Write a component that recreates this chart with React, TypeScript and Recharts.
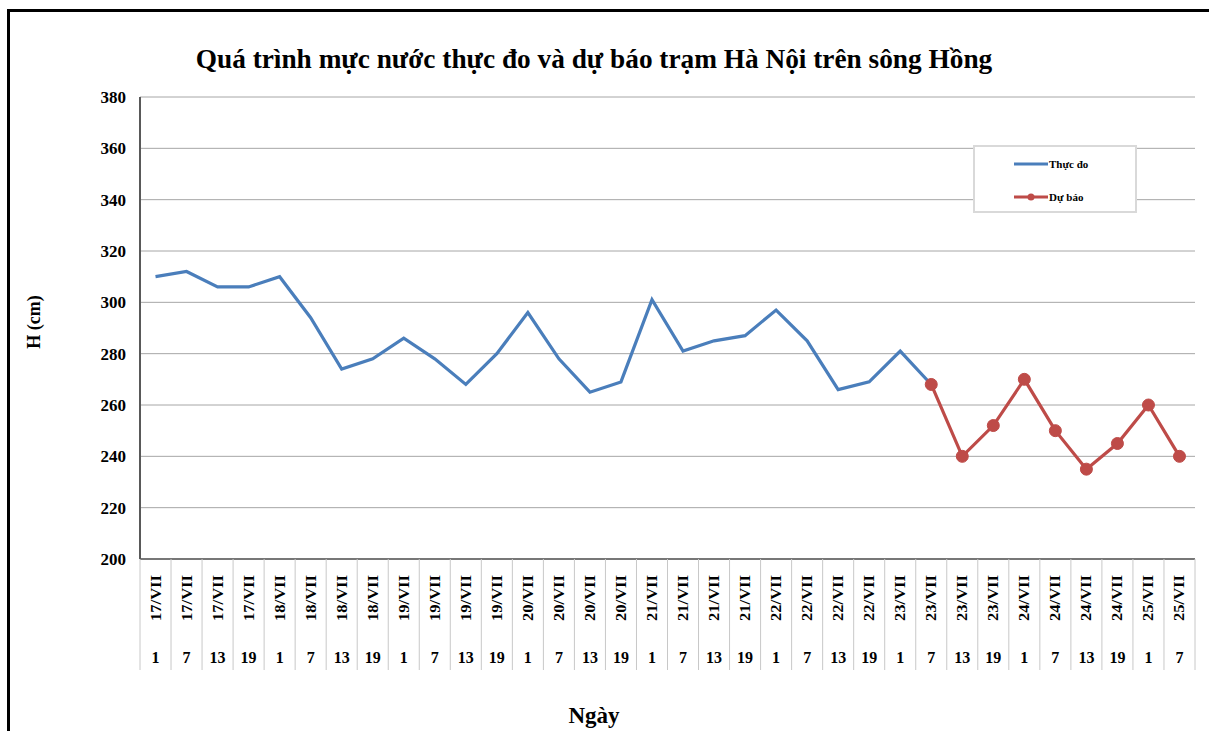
import React from 'react';
import { LineChart, Line, XAxis, YAxis, CartesianGrid, Legend } from 'recharts';

const DAY_LABELS = [
  '17/VII', '17/VII', '17/VII', '17/VII',
  '18/VII', '18/VII', '18/VII', '18/VII',
  '19/VII', '19/VII', '19/VII', '19/VII',
  '20/VII', '20/VII', '20/VII', '20/VII',
  '21/VII', '21/VII', '21/VII', '21/VII',
  '22/VII', '22/VII', '22/VII', '22/VII',
  '23/VII', '23/VII', '23/VII', '23/VII',
  '24/VII', '24/VII', '24/VII', '24/VII',
  '25/VII', '25/VII',
];
const HOUR_LABELS = [
  '1', '7', '13', '19', '1', '7', '13', '19', '1', '7', '13', '19',
  '1', '7', '13', '19', '1', '7', '13', '19', '1', '7', '13', '19',
  '1', '7', '13', '19', '1', '7', '13', '19', '1', '7',
];
// Thực đo (measured)
const OBSERVED = [
  310, 312, 306, 306, 310, 294, 274, 278, 286, 278, 268, 280, 296,
  278, 265, 269, 301, 281, 285, 287, 297, 285, 266, 269, 281, 268,
];
// Dự báo (forecast), starts at 23/VII 7h
const FORECAST = [268, 240, 252, 270, 250, 235, 245, 260, 240];
const FORECAST_START = 25;
const Y_TICKS = [200, 220, 240, 260, 280, 300, 320, 340, 360, 380];

const data = DAY_LABELS.map((day, i) => ({
  cat: `${day} ${HOUR_LABELS[i]}`,
  observed: i < OBSERVED.length ? OBSERVED[i] : null,
  forecast: i >= FORECAST_START ? FORECAST[i - FORECAST_START] : null,
}));

const FONT = '"Liberation Serif", "Times New Roman", serif';
const BLUE = '#4a7ebb';
const RED = '#be4b48';
const PLOT_W = 1055;
const BAND = PLOT_W / DAY_LABELS.length;

function CategoryTick(props: any) {
  const { x, y, index } = props;
  const left = x - BAND / 2;
  const last = index === DAY_LABELS.length - 1;
  return (
    <g>
      <line x1={left} y1={y} x2={left} y2={y + 111} stroke="#c8c8c8" />
      {last && <line x1={x + BAND / 2} y1={y} x2={x + BAND / 2} y2={y + 111} stroke="#c8c8c8" />}
      <text
        transform={`translate(${x + 5},${y + 39}) rotate(-90)`}
        textAnchor="middle"
        fontSize={14}
        fontWeight="bold"
        fontFamily={FONT}
        fill="#000"
        textLength={46}
        lengthAdjust="spacingAndGlyphs"
      >
        {DAY_LABELS[index]}
      </text>
      <text x={x} y={y + 104} textAnchor="middle" fontSize={16} fontWeight="bold" fontFamily={FONT} fill="#000">
        {HOUR_LABELS[index]}
      </text>
    </g>
  );
}

function LegendBox() {
  const row = (label: string, color: string, dot: boolean) => (
    <div style={{ display: 'flex', alignItems: 'center', height: 16 }}>
      <svg width={36} height={12} style={{ marginLeft: 38 }}>
        <line x1={1} y1={6} x2={35} y2={6} stroke={color} strokeWidth={3} />
        {dot && <circle cx={18} cy={6} r={3.5} fill={color} />}
      </svg>
      <span style={{ fontFamily: FONT, fontWeight: 'bold', fontSize: 11, color: '#000' }}>{label}</span>
    </div>
  );
  return (
    <div
      style={{
        width: 160,
        height: 55,
        border: '2px solid #d9d9d9',
        background: '#fff',
        boxSizing: 'content-box',
        paddingTop: 9,
        display: 'flex',
        flexDirection: 'column',
        gap: 17,
      }}
    >
      {row('Thực đo', BLUE, false)}
      {row('Dự báo', RED, true)}
    </div>
  );
}

export default function App() {
  return (
    <div style={{ position: 'absolute', left: 0, top: 0, width: 1209, height: 731, overflow: 'hidden', background: '#fff' }}>
      <div
        style={{
          position: 'absolute',
          left: 7,
          top: 9,
          width: 1300,
          height: 800,
          border: '3px solid #000',
        }}
      />
      <div
        style={{
          position: 'absolute',
          left: 0,
          top: 44,
          width: 1188,
          textAlign: 'center',
          fontFamily: FONT,
          fontWeight: 'bold',
          fontSize: 27.3,
          color: '#000',
          whiteSpace: 'nowrap',
        }}
      >
        Quá trình mực nước thực đo và dự báo trạm Hà Nội trên sông Hồng
      </div>
      <div style={{ position: 'absolute', left: 0, top: 0 }}>
        <LineChart width={1209} height={731} data={data} margin={{ top: 97, right: 14, bottom: 0, left: 0 }}>
          <CartesianGrid yAxisId="l" vertical={false} stroke="#a6a6a6" strokeWidth={1} />
          <XAxis
            dataKey="cat"
            interval={0}
            height={172}
            padding={{ left: BAND / 2, right: BAND / 2 }}
            tickSize={0}
            tickMargin={0}
            tickLine={false}
            axisLine={{ stroke: '#595959', strokeWidth: 1.5 }}
            tick={(p: any) => <CategoryTick {...p} />}
            label={() => (
              <text x={594} y={723} textAnchor="middle" fontSize={23} fontWeight="bold" fontFamily={FONT} fill="#000">
                Ngày
              </text>
            )}
          />
          <YAxis
            yAxisId="l"
            width={140}
            domain={[200, 380]}
            ticks={Y_TICKS}
            interval={0}
            tickSize={0}
            tickMargin={14}
            tickLine={false}
            axisLine={{ stroke: '#595959', strokeWidth: 2 }}
            tick={{ fontSize: 17, fontWeight: 'bold', fontFamily: FONT, fill: '#000' }}
            label={() => (
              <text
                x={34}
                y={322}
                transform="rotate(-90, 34, 322)"
                textAnchor="middle"
                dominantBaseline="central"
                fontSize={18}
                fontWeight="bold"
                fontFamily={FONT}
                fill="#000"
              >
                H (cm)
              </text>
            )}
          />
          <YAxis
            yAxisId="r"
            orientation="right"
            width={0}
            domain={[200, 380]}
            tick={false}
            tickLine={false}
            axisLine={{ stroke: '#7f7f7f', strokeWidth: 1.5 }}
          />
          <Legend
            layout="horizontal"
            verticalAlign="middle"
            align="center"
            content={() => <LegendBox />}
            wrapperStyle={{ position: 'absolute', left: 973, top: 145, width: 164, height: 66 }}
          />
          <Line
            yAxisId="l"
            type="linear"
            dataKey="observed"
            name="Thực đo"
            stroke={BLUE}
            strokeWidth={3.2}
            dot={false}
            activeDot={false}
            connectNulls={false}
            isAnimationActive={false}
          />
          <Line
            yAxisId="l"
            type="linear"
            dataKey="forecast"
            name="Dự báo"
            stroke={RED}
            strokeWidth={3.2}
            dot={{ r: 6, fill: RED, stroke: RED, strokeWidth: 1 }}
            activeDot={false}
            connectNulls={false}
            isAnimationActive={false}
          />
        </LineChart>
      </div>
    </div>
  );
}
